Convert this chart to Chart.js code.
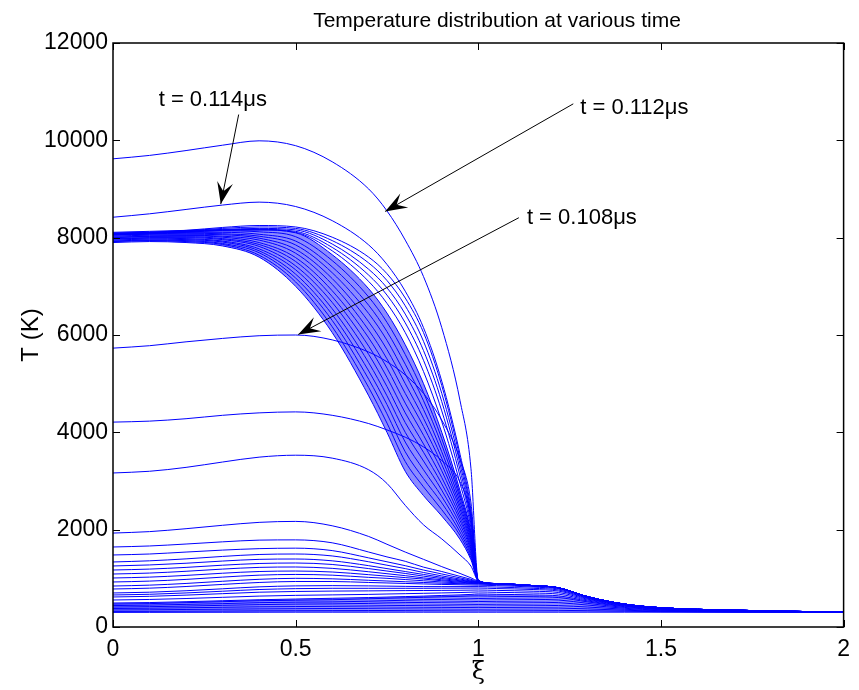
<!DOCTYPE html>
<html>
<head>
<meta charset="utf-8">
<script src="https://cdn.jsdelivr.net/npm/chart.js@4.4.1/dist/chart.umd.min.js"></script>
<style>
html, body { margin: 0; padding: 0; background: #fff; }
#wrap { width: 859px; height: 690px; }
</style>
</head>
<body>
<div id="wrap"><canvas id="chart" width="859" height="690"></canvas></div>
<script>
'use strict'

const xi = [0, 0.1, 0.2, 0.3, 0.4, 0.5, 0.6, 0.7, 0.75, 0.8, 0.85, 0.9, 0.95, 0.98, 1.0,
    1.05, 1.15, 1.22, 1.3, 1.4, 1.5, 1.7, 2.0];

const xTicks = [0, 0.5, 1, 1.5, 2];
const yTicks = [0, 2000, 4000, 6000, 8000, 10000, 12000];

// common part right of xi = 1 for the hot profiles
const hotTail = [890, 850, 805, 620, 470, 395, 345, 305];

// hot profiles (xi = 0 .. 1)
const t112 = [9620, 9690, 9790, 9900, 9990, 9890, 9560, 9000, 8550, 7950, 7200, 6150, 4650, 3250, 960];
const t114 = [8420, 8490, 8580, 8670, 8730, 8640, 8350, 7850, 7450, 6900, 6150, 5050, 3550, 2400, 955];
const c1 = [8090, 8110, 8150, 8210, 8250, 8220, 8010, 7600, 7260, 6760, 6050, 4960, 3460, 2320, 950];
const c2 = [8080, 8100, 8140, 8190, 8220, 8190, 7940, 7480, 7120, 6600, 5870, 4800, 3350, 2250, 950];
const c3 = [8080, 8100, 8130, 8170, 8190, 8160, 7870, 7350, 6970, 6430, 5680, 4630, 3230, 2180, 950];
const c4 = [8070, 8090, 8120, 8160, 8170, 8130, 7800, 7230, 6820, 6250, 5480, 4440, 3100, 2110, 950];
const c5 = [8060, 8080, 8110, 8150, 8160, 8110, 7730, 7100, 6650, 6050, 5250, 4220, 2950, 2030, 950];

// the dense family of profiles, right edge first
const band = [
    [8110, 8130, 8150, 8160, 8160, 8100, 7650, 6950, 6450, 5800, 5000, 4000, 2800, 1950, 950],
    [8090, 8110, 8130, 8140, 8120, 8020, 7530, 6780, 6260, 5600, 4820, 3870, 2720, 1910, 950],
    [8080, 8100, 8110, 8110, 8070, 7930, 7400, 6610, 6070, 5400, 4650, 3740, 2650, 1860, 950],
    [8060, 8080, 8090, 8080, 8030, 7850, 7280, 6440, 5890, 5200, 4470, 3600, 2570, 1820, 950],
    [8050, 8070, 8070, 8060, 7990, 7760, 7160, 6270, 5700, 5000, 4290, 3470, 2490, 1780, 950],
    [8030, 8050, 8050, 8030, 7950, 7680, 7040, 6100, 5510, 4800, 4120, 3340, 2420, 1730, 950],
    [8010, 8030, 8040, 8010, 7900, 7590, 6910, 5940, 5320, 4600, 3940, 3210, 2340, 1690, 950],
    [8000, 8020, 8020, 7980, 7860, 7510, 6790, 5770, 5130, 4400, 3760, 3070, 2260, 1640, 950],
    [7980, 8000, 8000, 7960, 7820, 7420, 6670, 5600, 4940, 4200, 3590, 2940, 2190, 1600, 950],
    [7970, 7990, 7980, 7930, 7770, 7340, 6540, 5430, 4750, 4000, 3410, 2810, 2110, 1560, 950],
    [7950, 7970, 7960, 7910, 7730, 7250, 6420, 5260, 4570, 3800, 3230, 2680, 2030, 1510, 950],
    [7930, 7950, 7940, 7880, 7690, 7170, 6300, 5090, 4380, 3600, 3050, 2550, 1950, 1470, 950],
    [7920, 7940, 7920, 7860, 7640, 7090, 6170, 4920, 4190, 3400, 2880, 2410, 1880, 1420, 950],
    [7900, 7920, 7900, 7830, 7600, 7000, 6050, 4750, 4000, 3200, 2700, 2280, 1800, 1380, 950]
];

const t108 = [5730, 5780, 5860, 5930, 5985, 6000, 5900, 5650, 5450, 5180, 4800, 4250, 3450, 2550, 950];
const e1 = [4210, 4230, 4280, 4350, 4400, 4420, 4350, 4180, 4050, 3900, 3700, 3420, 2980, 2250, 950];
const f1 = [3165, 3200, 3280, 3390, 3490, 3530, 3470, 3230, 2950, 2500, 2100, 1810, 1480, 1250, 950];
const g1 = [1930, 1960, 2020, 2090, 2150, 2170, 2080, 1860, 1700, 1540, 1390, 1240, 1100, 1010, 940];

// cooler profiles that still end on the hot tail
const warm = [
    [1644, 1665, 1705, 1750, 1785, 1790, 1730, 1540, 1440, 1350, 1230, 1140, 1040, 980, 930],
    [1480, 1500, 1540, 1580, 1610, 1620, 1570, 1420, 1340, 1260, 1170, 1090, 1010, 960, 925],
    [1336, 1360, 1400, 1450, 1490, 1500, 1460, 1340, 1270, 1200, 1120, 1050, 985, 945, 920],
    [1254, 1275, 1310, 1355, 1390, 1397, 1360, 1260, 1200, 1140, 1080, 1020, 965, 935, 915],
    [1171, 1190, 1225, 1270, 1305, 1315, 1285, 1200, 1150, 1100, 1045, 995, 950, 925, 910],
    [1089, 1108, 1145, 1190, 1225, 1233, 1205, 1135, 1095, 1055, 1010, 970, 935, 915, 905],
    [1007, 1025, 1060, 1105, 1140, 1150, 1130, 1075, 1045, 1015, 985, 950, 920, 905, 900],
    [925, 943, 978, 1025, 1065, 1080, 1065, 1020, 1000, 975, 950, 925, 905, 895, 895]
];

// coolest profiles, whole xi range
const cold = [
    [842, 860, 895, 940, 980, 1000, 990, 960, 945, 930, 915, 900, 890, 885, 880, 870, 835, 795, 615, 468, 393, 344, 305],
    [781, 798, 832, 875, 915, 935, 935, 915, 905, 895, 885, 875, 868, 863, 860, 850, 820, 780, 605, 463, 390, 342, 305],
    [699, 715, 745, 785, 825, 845, 850, 845, 840, 835, 830, 830, 830, 830, 830, 820, 795, 760, 595, 458, 387, 340, 304],
    [658, 672, 700, 735, 770, 788, 795, 795, 795, 795, 795, 797, 798, 800, 800, 790, 770, 738, 585, 452, 384, 338, 304],
    [617, 630, 655, 685, 715, 730, 738, 742, 745, 748, 750, 752, 755, 758, 760, 752, 735, 708, 570, 445, 380, 336, 304],
    [555, 566, 585, 610, 635, 650, 660, 670, 678, 685, 692, 700, 708, 715, 720, 712, 698, 675, 553, 437, 375, 333, 304],
    [493, 502, 520, 540, 560, 575, 590, 605, 615, 625, 635, 648, 660, 670, 680, 672, 660, 640, 535, 428, 370, 330, 303],
    [470, 480, 500, 520, 540, 550, 560, 580, 590, 600, 610, 620, 630, 638, 640, 632, 622, 605, 515, 418, 364, 327, 303],
    [440, 450, 465, 480, 500, 510, 515, 530, 540, 550, 560, 565, 575, 580, 585, 578, 568, 555, 485, 402, 355, 323, 302],
    [410, 418, 430, 445, 460, 470, 475, 485, 495, 500, 505, 510, 515, 520, 525, 518, 510, 500, 450, 385, 345, 318, 302],
    [380, 386, 395, 405, 415, 420, 425, 432, 438, 442, 446, 450, 455, 458, 460, 455, 448, 440, 410, 365, 334, 314, 301],
    [350, 354, 360, 366, 372, 376, 380, 384, 388, 391, 394, 397, 400, 402, 404, 400, 395, 390, 372, 345, 323, 309, 301],
    [320, 322, 325, 328, 332, 334, 336, 338, 340, 342, 344, 346, 348, 349, 350, 348, 345, 342, 335, 325, 314, 305, 300],
    [300, 301, 302, 303, 304, 305, 305, 305, 305, 305, 305, 305, 305, 305, 305, 305, 305, 305, 305, 305, 305, 305, 305]
];

// arrows: [text, text xi, text T, from xi, from T, to xi, to T]
const notes = [
    ['t = 0.114\u03bcs', 0.125, 10830, 0.344, 10530, 0.295, 8690],
    ['t = 0.112\u03bcs', 1.279, 10665, 1.26, 10750, 0.745, 8540],
    ['t = 0.108\u03bcs', 1.133, 8405, 1.111, 8410, 0.507, 6010]
];

const blue = '#0000ff';
const font = '"Liberation Sans", Arial, Helvetica, sans-serif';

let datasets = [];
function addCurve(values, extra) {
    let ds = {
        data: values.map((v, i) => ({ x: xi[i], y: v })),
        borderColor: blue,
        borderWidth: 1,
        pointRadius: 0,
        fill: false,
        cubicInterpolationMode: 'monotone'
    };
    Object.assign(ds, extra || {});
    datasets.push(ds);
    return datasets.length - 1;
}

addCurve(t112.concat(hotTail));
addCurve(t114.concat(hotTail));
[c1, c2, c3, c4, c5].forEach(c => addCurve(c.concat(hotTail)));
let bandTop = addCurve(band[0].concat(hotTail));
for (let i = 1; i < band.length - 1; i++) {
    addCurve(band[i].concat(hotTail));
}
addCurve(band[band.length - 1].concat(hotTail), {
    fill: { target: bandTop }, backgroundColor: 'rgba(0,0,255,0.45)'
});
addCurve(t108.concat(hotTail));
addCurve(e1.concat(hotTail));
addCurve(f1.concat(hotTail));
addCurve(g1.concat(hotTail));
warm.forEach(w => addCurve(w.concat(hotTail)));
let coldTop = -1;
for (let i = 0; i < cold.length; i++) {
    let idx;
    if (i === cold.length - 1) {
        idx = addCurve(cold[i], { fill: { target: coldTop }, backgroundColor: 'rgba(0,0,255,0.45)' });
    } else {
        idx = addCurve(cold[i]);
    }
    if (i === 6) coldTop = idx;
}

// box, inward ticks, titles and arrows drawn like the matlab figure
const frame = {
    id: 'frame',
    afterDraw(chart) {
        const ctx = chart.ctx;
        const a = chart.chartArea;
        const xs = chart.scales.x;
        const ys = chart.scales.y;
        ctx.save();
        ctx.strokeStyle = '#000';
        ctx.lineWidth = 1.5;
        ctx.strokeRect(a.left, a.top, a.right - a.left, a.bottom - a.top);
        ctx.lineWidth = 1;
        ctx.beginPath();
        xTicks.forEach(v => {
            let px = Math.round(xs.getPixelForValue(v)) + 0.5;
            ctx.moveTo(px, a.bottom); ctx.lineTo(px, a.bottom - 7);
            ctx.moveTo(px, a.top); ctx.lineTo(px, a.top + 7);
        });
        yTicks.forEach(v => {
            let py = Math.round(ys.getPixelForValue(v)) + 0.5;
            ctx.moveTo(a.left, py); ctx.lineTo(a.left + 7, py);
            ctx.moveTo(a.right, py); ctx.lineTo(a.right - 7, py);
        });
        ctx.stroke();

        ctx.fillStyle = '#000';
        ctx.textAlign = 'center';
        ctx.textBaseline = 'middle';
        ctx.font = '21px ' + font;
        ctx.fillText('Temperature distribution at various time', 497, 21);
        ctx.font = '24px "DejaVu Serif", serif';
        ctx.fillText('\u03be', (a.left + a.right) / 2, 673);
        ctx.save();
        ctx.translate(31, (a.top + a.bottom) / 2);
        ctx.rotate(-Math.PI / 2);
        ctx.font = '24px ' + font;
        ctx.fillText('T (K)', 0, 0);
        ctx.restore();

        notes.forEach(n => {
            let tx = xs.getPixelForValue(n[1]), ty = ys.getPixelForValue(n[2]);
            let x0 = xs.getPixelForValue(n[3]), y0 = ys.getPixelForValue(n[4]);
            let x1 = xs.getPixelForValue(n[5]), y1 = ys.getPixelForValue(n[6]);
            ctx.font = '22px ' + font;
            ctx.textAlign = 'left';
            ctx.fillText(n[0], tx, ty);
            ctx.beginPath();
            ctx.moveTo(x0, y0);
            ctx.lineTo(x1, y1);
            ctx.stroke();
            let len = Math.hypot(x1 - x0, y1 - y0);
            let dx = (x1 - x0) / len, dy = (y1 - y0) / len;
            let nx = -dy, ny = dx;
            let L = 22, W = 8;
            ctx.beginPath();
            ctx.moveTo(x1, y1);
            ctx.lineTo(x1 - dx * L + nx * W, y1 - dy * L + ny * W);
            ctx.lineTo(x1 - dx * L * 0.6, y1 - dy * L * 0.6);
            ctx.lineTo(x1 - dx * L - nx * W, y1 - dy * L - ny * W);
            ctx.closePath();
            ctx.fill();
        });
        ctx.restore();
    }
};

new Chart(document.getElementById('chart'), {
    type: 'line',
    data: { datasets: datasets },
    options: {
        responsive: false,
        animation: false,
        events: [],
        layout: { padding: { left: 0, top: 43, right: 8, bottom: 0 } },
        plugins: { legend: { display: false }, tooltip: { enabled: false }, title: { display: false } },
        scales: {
            x: {
                type: 'linear', min: 0, max: 2,
                grid: { display: false, drawTicks: false },
                border: { display: false },
                afterFit(s) { s.height = 63; },
                afterBuildTicks(s) { s.ticks = xTicks.map(v => ({ value: v })); },
                ticks: { color: '#000', padding: 9, maxRotation: 0, font: { family: font, size: 23 }, callback: v => String(v) }
            },
            y: {
                type: 'linear', min: 0, max: 12000,
                grid: { display: false, drawTicks: false },
                border: { display: false },
                afterFit(s) { s.width = 113; },
                afterBuildTicks(s) { s.ticks = yTicks.map(v => ({ value: v })); },
                ticks: { color: '#000', padding: 5, font: { family: font, size: 23 }, callback: v => String(v) }
            }
        }
    },
    plugins: [frame]
});
</script>
</body>
</html>
